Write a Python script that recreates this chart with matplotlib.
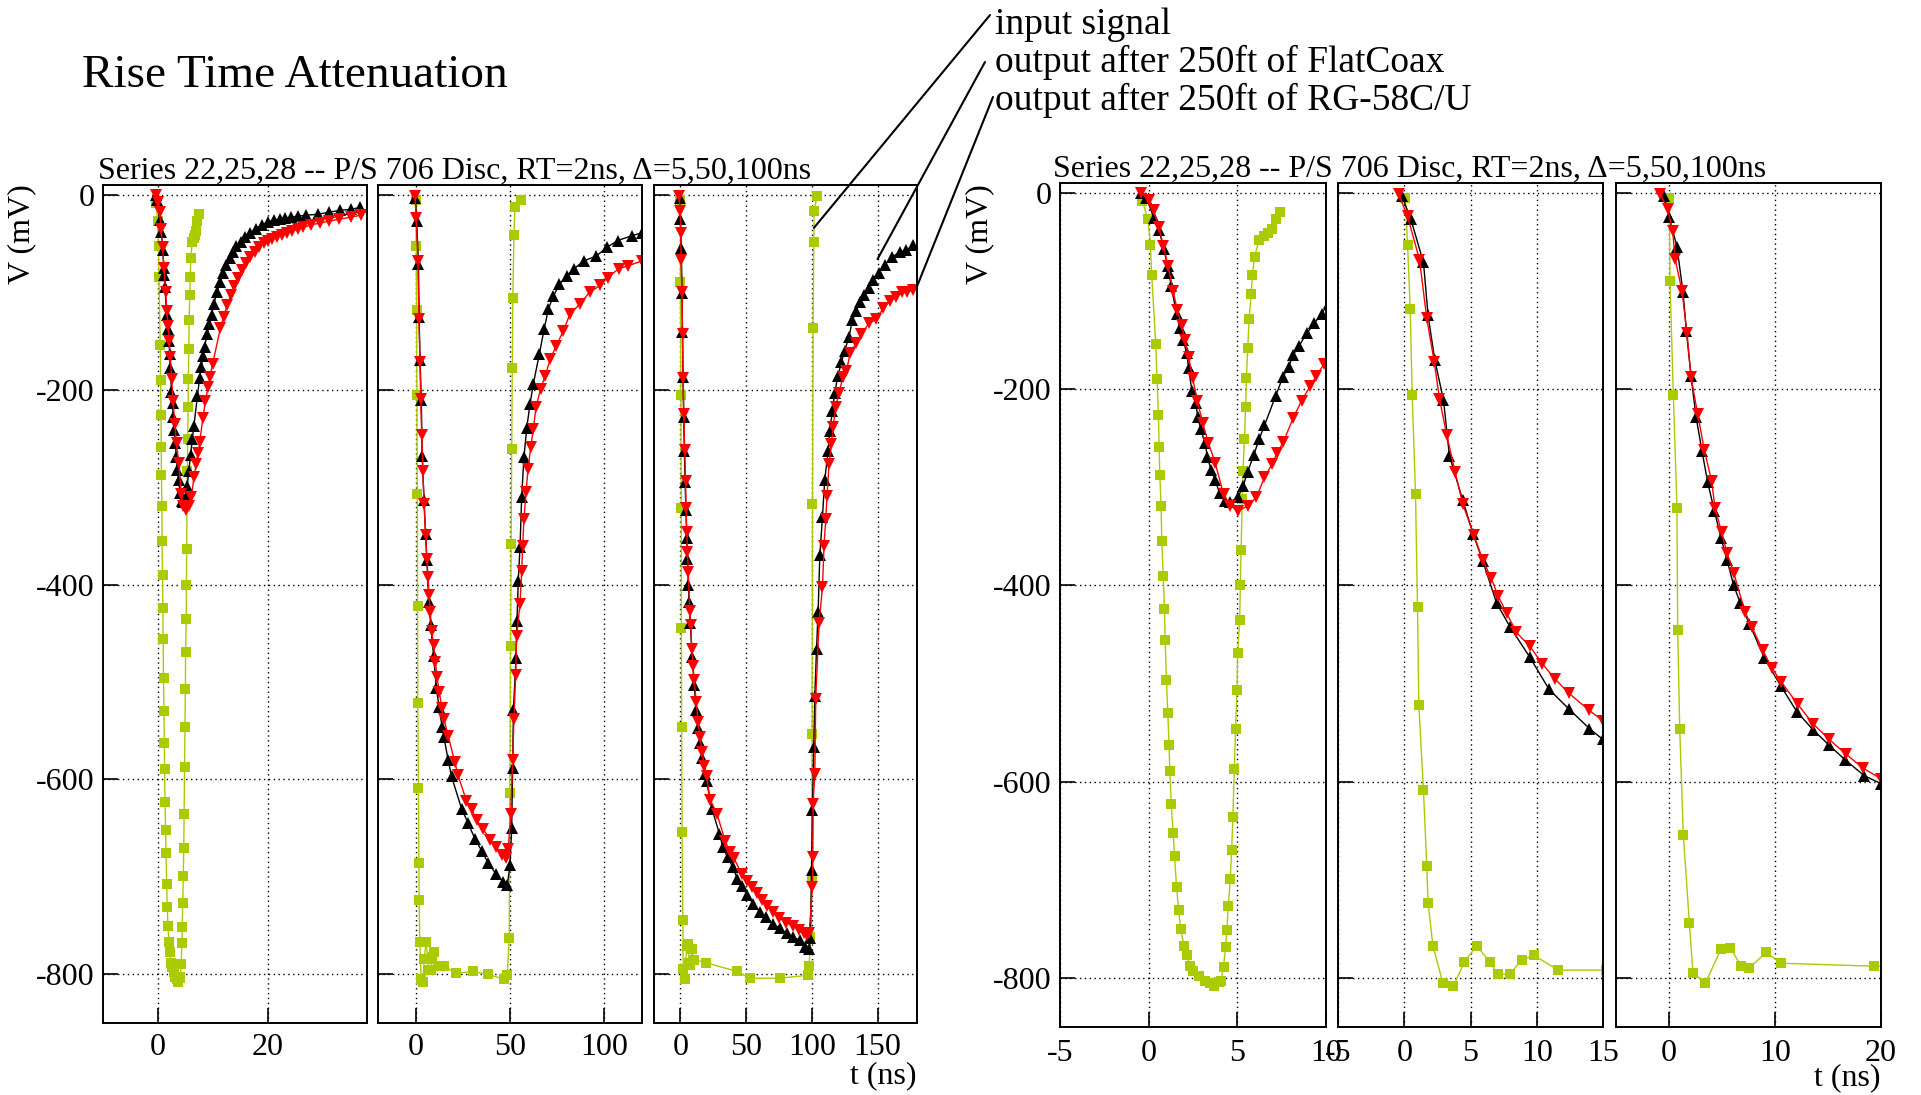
import matplotlib.pyplot as plt
import numpy as np

plt.rcParams['font.family'] = ['Liberation Serif', 'DejaVu Serif']
plt.rcParams['axes.unicode_minus'] = False

W, H = 1921, 1095

# ---- data (t in ns, V in mV) ----
# delta = 5 ns
t5_in = [-0.36, -0.04, 0.1, 0.17, 0.4, 0.47, 0.55, 0.59, 0.63, 0.7, 0.74, 0.82, 0.89, 0.93, 1.0, 1.08,
         1.15, 1.19, 1.27, 1.38, 1.46, 1.57, 1.69, 1.8, 1.99, 2.14, 2.33, 2.52, 2.82, 3.18, 3.47, 3.69,
         3.94, 4.07, 4.22, 4.34, 4.41, 4.49, 4.6, 4.68, 4.75, 4.83, 4.9, 4.98, 5.02, 5.13, 5.17, 5.21,
         5.28, 5.32, 5.4, 5.47, 5.51, 5.59, 5.66, 5.78, 5.85, 5.97, 6.23, 6.5, 6.72, 6.95, 7.18, 7.41]
v5_in = [-8, -27, -53, -84, -154, -190, -226, -259, -288, -319, -355, -390, -424, -456, -496, -530,
         -563, -589, -623, -652, -676, -707, -731, -750, -767, -777, -788, -793, -798, -803, -805, -808,
         -804, -803, -789, -768, -751, -727, -699, -670, -636, -587, -546, -507, -469, -435, -400, -364,
         -312, -283, -251, -218, -189, -158, -129, -103, -84, -65, -48, -44, -41, -37, -27, -20]

t5_flat = [-0.42, -0.13, 0.3, 0.59, 0.85, 1.08, 1.15, 1.27, 1.57, 1.76, 1.95, 2.14, 2.25, 2.44, 2.65,
           2.77, 2.94, 3.18, 3.31, 3.51, 3.75, 4.0, 4.28, 4.6, 5.04, 5.32, 5.59, 5.93, 6.23, 6.53, 7.16,
           7.56, 7.9, 8.16, 8.48, 8.92, 9.34, 9.76, 10.15, 10.75, 11.23, 11.83, 12.44, 13.03, 13.63,
           14.24, 15.08, 15.86, 16.76, 17.84, 18.87, 20.07, 21.09, 22.17, 23.07, 24.1, 25.47, 26.98,
           29.07, 31.05, 33.1, 35.08, 36.7]
v5_flat = [0, -5, -26, -38, -57, -75, -82, -95, -123, -138, -150, -163, -178, -202, -214,
           -228, -241, -255, -269, -282, -293, -306, -314, -315, -310, -299, -284, -267, -251, -237, -207,
           -188, -177, -165, -156, -143, -133, -123, -112, -100, -90, -80, -72, -65, -59,
           -53, -48, -43, -39, -35, -31, -28, -26, -25, -24, -23, -22, -21,
           -20, -18, -16, -15, -13]

t5_rg = [-0.42, 0.0, 0.28, 0.57, 0.83, 1.1, 1.38, 1.61, 1.86, 2.05, 2.25, 2.48, 2.75, 3.05, 3.37, 3.75,
         4.22, 4.6, 5.04, 5.59, 6.08, 6.53, 6.97, 7.25, 7.59, 8.16, 8.62, 9.11, 9.43, 9.91, 11.35, 11.95,
         12.6, 13.25, 13.9, 14.6, 15.3, 16.0, 16.8, 17.6, 18.4, 19.2, 20.0, 20.7, 21.56, 22.46, 23.37,
         24.45, 25.47, 26.37, 27.87, 29.37, 31.17, 32.98, 35.08, 36.88]
v5_rg = [0, -7, -18, -35, -54, -75, -100, -119, -135, -150, -167, -189, -212, -235, -255, -275,
         -307, -319, -324, -319, -310, -290, -276, -265, -254, -229, -212, -197, -187, -174, -137, -125,
         -113, -103, -94, -85, -77, -70, -64, -58.5, -54, -50, -47, -45.5, -43.8, -41.4, -39.7,
         -37, -35, -33.5, -31, -29, -27, -25, -23, -21]

# delta = 50 ns
t50_in = [0.075, 0.25, 0.45, 0.6, 0.85, 1.0, 1.1, 1.45, 1.7, 1.8, 2.16, 2.91, 3.71, 4.54, 5.46, 6.47,
          7.04, 7.97, 8.85, 9.77, 11.63, 15.2, 21.6, 30.4, 38.1, 46.8, 48.5, 49.6, 49.9, 50.3, 50.6,
          50.9, 51.2, 51.5, 52.1, 52.6, 55.7]
v50_in = [-5, -53, -118, -206, -307, -422, -522, -609, -686, -724, -767, -805, -808, -784, -767, -784,
          -796, -796, -782, -777, -792, -792, -799, -797, -800, -805, -801, -763, -614, -463, -358,
          -261, -178, -106, -41, -13, -5]

t50_flat = [-0.18, 0.5, 1.45, 1.8, 2.3, 2.96, 3.41, 4.41, 5.21, 5.92, 6.97, 7.97, 9.47, 10.93, 12.43,
            13.98, 14.99, 17.2, 19.0, 24.3, 27.8, 31.4, 34.9, 38.5, 42.6, 46.4, 48.6, 50.0, 50.9, 51.4,
            51.8, 53.2, 53.7, 54.4, 55.3, 56.2, 57.4, 58.9, 60.6, 62.4, 65.6, 68.1, 70.4, 73.0, 76.2,
            80.1, 84.0, 89.0, 95.7, 101.4, 107.1, 114.7, 120]
v50_flat = [-3, -27, -71, -125, -170, -211, -268, -313, -348, -375, -418, -442, -473, -506, -526,
            -546, -557, -580, -597, -630, -645, -661, -673, -686, -697, -705, -708, -688, -650, -588,
            -529, -475, -437, -396, -362, -310, -269, -239, -215, -194, -163, -138, -117, -104, -92,
            -83, -76, -68, -63, -54, -47, -42, -39]

t50_rg = [-0.43, 0.25, 1.15, 1.7, 2.26, 2.66, 3.21, 3.83, 4.41, 5.26, 5.92, 6.54, 7.09, 7.72, 8.47,
          9.47, 10.43, 11.35, 12.43, 13.93, 14.99, 17.2, 20.7, 22.5, 26.9, 29.6, 32.3, 35.8, 39.4,
          42.6, 45.6, 47.9, 49.1, 50.4, 51.4, 52.1, 53.0, 53.5, 55.3, 56.2, 56.7, 57.4, 58.5, 59.6,
          61.0, 62.4, 63.8, 66.3, 68.6, 71.3, 74.5, 78.2, 81.9, 87.2, 92.2, 97.9, 101.8, 107.6,
          112.4, 120]
v50_rg = [-1, -24, -68, -128, -172, -210, -247, -284, -317, -349, -374, -392, -411, -428, -448,
          -462, -480, -495, -510, -527, -538, -555, -582, -596, -622, -630, -642, -651, -662,
          -669, -678, -681, -671, -635, -580, -538, -493, -453, -420, -386, -360, -333, -305, -281,
          -259, -240, -218, -199, -186, -169, -155, -140, -122, -112, -100, -93, -85, -76,
          -73, -68]

# delta = 100 ns
t100_in = [0.03, 0.09, 0.41, 0.75, 0.82, 1.01, 1.35, 1.92, 2.26, 3.43, 4.9, 5.79, 6.79, 7.58, 9.15,
           10.57, 19.3, 42.9, 53, 75.8, 97.2, 98, 99, 99.8, 100.2, 100.5, 101, 101.5, 101.8, 104]
v100_in = [-5, -90, -206, -321, -445, -546, -654, -744, -795, -805, -771, -769, -788, -790, -774,
           -785, -788, -797, -804, -804, -801, -792, -762, -701, -553, -317, -137, -48, -17, -1]

t100_flat = [-0.5, 0.03, 0.75, 1.32, 1.64, 2.08, 2.55, 3.11, 3.65, 4.28, 4.91, 5.47, 6.1, 6.73, 7.58,
             9.0, 10.57, 12.08, 13.58, 15.12, 16.64, 18.43, 20, 24, 29.8, 32.3, 35.9, 39.9, 43.4,
             46.7, 51, 55.5, 60.6, 65.2, 70.2, 75.8, 80.8, 85.9, 90.9, 94.7, 98, 99, 99.8, 100.5,
             101.5, 102.3, 103.6, 104.8, 106.1, 108.1, 109.8, 112.4, 113.6, 115.7, 117.4, 119.9,
             122.5, 125, 128.3, 130.8, 133.9, 136.4, 139.4, 143.4, 146.5, 151, 155.3, 161.1, 166.7,
             171.7, 177.3]
v100_flat = [-3, -25, -55, -101, -141, -187, -228, -263, -295, -324, -352, -374, -400, -418, -439,
             -474, -503, -529, -547, -563, -578, -594, -602, -630, -656, -669, -680, -690, -702,
             -709, -719, -728, -736, -741, -748, -753, -758, -762, -765, -772, -774, -763, -693, -631,
             -567, -514, -466, -428, -370, -331, -293, -263, -242, -222, -203, -186,
             -172, -160, -146, -129, -119, -110, -103, -96, -87, -80, -72, -64, -59,
             -57, -52]

t100_rg = [-0.82, -0.13, 0.35, 0.57, 1.23, 1.7, 2.08, 2.7, 3.33, 4.03, 4.34, 4.97, 5.47, 6.1, 7.17,
           7.8, 8.84, 9.69, 10.57, 12.14, 13.58, 15.12, 16.7, 18.27, 20, 22.7, 27.8, 34.1, 37.9, 40.9,
           46.7, 50.5, 54.3, 58.1, 61.9, 66.2, 70.7, 75.3, 80.3, 85.4, 90.4, 93.9, 96.5, 98, 100.5,
           100.8, 101, 102.3, 103, 105.5, 108.1, 109.3, 110.6, 111.6, 113.1, 114.9, 116.1, 118.2,
           120.7, 123.7, 126.3, 129.3, 133.9, 137.6, 143.4, 149, 154.5, 159.6, 164.1, 168.7, 172.5,
           177.3]
v100_rg = [-1, -17, -39, -67, -100, -143, -188, -225, -262, -294, -321, -346, -367, -387, -427,
           -442, -466, -484, -498, -521, -541, -557, -572, -586, -597, -621, -635, -663, -675, -681,
           -697, -704, -710, -717, -724, -730, -736, -742, -747, -750, -755, -758, -760, -758, -710,
           -680, -625, -594, -517, -440, -403, -360, -333, -309, -276, -256, -238, -218,
           -203, -187, -181, -162, -152, -143, -132, -128, -116, -109, -105, -100, -99.5,
           -97.5]

title = 'Series 22,25,28 -- P/S 706 Disc, RT=2ns, \u0394=5,50,100ns'
labels = ['input signal', 'output after 250ft of FlatCoax', 'output after 250ft of RG-58C/U']
GREEN = '#a9cc00'

datasets = {
    5: [(t5_in, v5_in), (t5_flat, v5_flat), (t5_rg, v5_rg)],
    50: [(t50_in, v50_in), (t50_flat, v50_flat), (t50_rg, v50_rg)],
    100: [(t100_in, v100_in), (t100_flat, v100_flat), (t100_rg, v100_rg)],
}

fig = plt.figure(figsize=(W / 100, H / 100), dpi=100)


def panel(x0, x1, top, bottom):
    return fig.add_axes([x0 / W, 1 - bottom / H, (x1 - x0) / W, (bottom - top) / H])


# (pixel box, which pulse, xlim, xticks, show y labels, label pad)
layout = [
    ((103, 367, 185, 1023), 5, (-10, 38), [0, 20], True, 7),
    ((378, 642, 185, 1023), 50, (-20, 120), [0, 50, 100], False, 7),
    ((654, 917, 185, 1023), 100, (-20, 180), [0, 50, 100, 150], False, 7),
    ((1060, 1326, 183, 1027), 5, (-5, 10), [-5, 0, 5, 10], True, 8.5),
    ((1338, 1603, 183, 1027), 50, (-5, 15), [-5, 0, 5, 10, 15], False, 8.5),
    ((1616, 1881, 183, 1027), 100, (-5, 20), [0, 10, 20], False, 8.5),
]

axes = []
for box, key, xl, xt, ylab, pad in layout:
    ax = panel(*box)
    (ti, vi), (tf, vf), (tr, vr) = datasets[key]
    ax.plot(ti, vi, color=GREEN, marker='s', ms=7, mew=0, lw=1.0)
    ax.plot(tf, vf, color='k', marker='^', ms=8.5, mew=0, lw=1.0)
    ax.plot(tr, vr, color='#ff0000', marker='v', ms=8.5, mew=0, lw=1.0)
    ax.set_xlim(*xl)
    ax.set_ylim(-850, 10)
    ax.set_xticks(xt)
    ax.set_yticks([0, -200, -400, -600, -800])
    ax.grid(True, color='k', ls=(0, (1, 2.5)), lw=1.0)
    ax.tick_params(direction='in', length=11, width=1.2, labelsize=23, top=False, right=False)
    ax.tick_params(axis='x', pad=pad)
    ax.tick_params(axis='y', pad=6, labelleft=ylab)
    for s in ax.spines.values():
        s.set_linewidth(1.4)
    axes.append(ax)

# titles and axis labels
fig.text(82 / W, 1 - 76 / H, 'Rise Time Attenuation', fontsize=34, va='center', ha='left')
fig.text(98 / W, 1 - 171 / H, title, fontsize=23, va='center', ha='left')
fig.text(1053 / W, 1 - 169 / H, title, fontsize=23, va='center', ha='left')
for xp in (22, 980):
    fig.text(xp / W, 1 - 184 / H, 'V (mV)', fontsize=23, rotation=90, ha='center', va='top')
fig.text(917 / W, 1 - 1076 / H, 't (ns)', fontsize=23, ha='right', va='center')
fig.text(1881 / W, 1 - 1078 / H, 't (ns)', fontsize=23, ha='right', va='center')

# legend with leader lines pointing into the Delta=100ns panel
text_y = [25, 62, 100]
line_start = [(990, 15), (985, 62), (993, 97)]
targets = [(101.6, -34), (150, -66), (180, -94)]
for lab, ty, (sx, sy), tgt in zip(labels, text_y, line_start, targets):
    fig.text(995 / W, 1 - ty / H, lab, fontsize=27, va='center', ha='left')
    axes[2].annotate('', xy=tgt, xycoords='data', xytext=(sx, H - sy), textcoords='figure pixels',
                     arrowprops=dict(arrowstyle='-', color='k', lw=1.5, shrinkA=0, shrinkB=0),
                     annotation_clip=False)

fig.savefig('out.png', dpi=100)
